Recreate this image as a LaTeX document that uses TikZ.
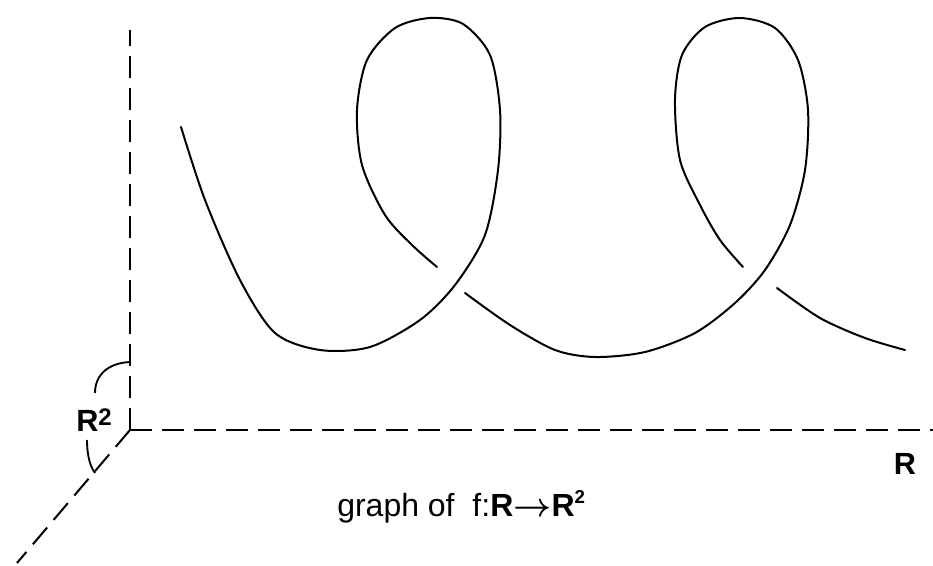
\documentclass[tikz,border=0pt]{standalone}
\usepackage{amsmath}
\usepackage{fontspec}
\setmainfont{Liberation Sans}
\usetikzlibrary{positioning}

\begin{document}
\begin{tikzpicture}[
    x=0.75pt, y=-0.75pt,
    axis/.style={line width=1.5pt, dash pattern=on 16.5pt off 7.5pt},
    curve/.style={line width=1.5pt, line cap=round},
    marc/.style={line width=1.4pt},
    lbl/.style={font=\fontsize{23}{26}\selectfont\bfseries, inner sep=0pt},
    caption/.style={font=\fontsize{24}{28}\selectfont, inner sep=0pt}
]
    \useasboundingbox (0,0) rectangle (933,566);
    \coordinate (o) at (130,430);
    \coordinate (ytop) at (130,30);
    \coordinate (xend) at (933,430);
    \coordinate (zend) at (17,563);
    % axes
    \draw[axis] (o) -- (ytop);
    \draw[axis] (o) -- (xend);
    \draw[axis] (o) -- (zend);
    % the R^2 bracket
    \draw[marc] (130,362) .. controls (108,363) and (95,375) .. (95,393);
    \draw[marc] (87,440) .. controls (87,452) and (89,465) .. (95,473);
    \node[lbl, anchor=base west] (plane) at (76,432) {R\raisebox{5pt}{\fontsize{18}{20}\selectfont 2}};
    \node[lbl, anchor=base] (line) at (905,475) {R};
    \node[caption, anchor=base west] (title) at (337,517) {graph of\ \ f:\textbf{R}$\boldsymbol{\rightarrow}$\textbf{R}\raisebox{10pt}{\fontsize{14}{16}\selectfont\bfseries 2}};
    % the curve, broken where it passes under
    \draw[curve] plot[smooth] coordinates {(181,127) (205,200) (240,280) (275,333) (320,350) (370,347) (420,320) (455,285) (485,235) (498,170) (500,110) (490,55) (463,24) (430,18) (395,28) (367,60) (357,110) (362,165) (385,215) (412,245) (437,267)};
    \draw[curve] plot[smooth] coordinates {(465,293) (510,325) (555,350) (595,357) (645,352) (695,333) (735,303) (765,270) (790,225) (805,170) (808,110) (798,60) (775,28) (740,18) (705,27) (682,55) (675,100) (680,160) (700,205) (720,240) (743,267)};
    \draw[curve] plot[smooth] coordinates {(777,288) (820,318) (865,338) (905,350)};
\end{tikzpicture}
\end{document}
